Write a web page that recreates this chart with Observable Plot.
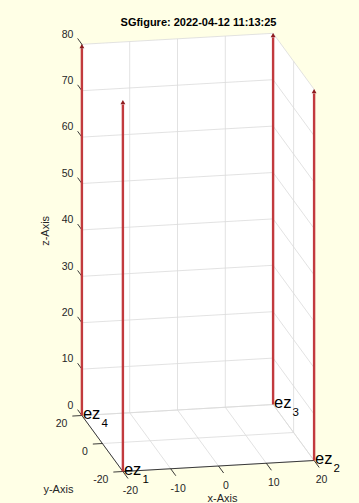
<!DOCTYPE html>
<html>
<head>
<meta charset="utf-8">
<script src="https://cdn.jsdelivr.net/npm/d3@7"></script>
<script src="https://cdn.jsdelivr.net/npm/@observablehq/plot@0.6"></script>
<style>
  html, body { margin: 0; padding: 0; background: #ffffe6; }
  #chart svg { display: block; }
</style>
</head>
<body>
<div id="chart"></div>
<script>
// ---- data ----
const titleText = "SGfigure: 2022-04-12 11:13:25";
const xTicks = [-20, -10, 0, 10, 20];
const yTicks = [-20, 0, 20];
const zTicks = [0, 10, 20, 30, 40, 50, 60, 70, 80];
const vecBase = ["ez", "ez", "ez", "ez"];
const vecSub = ["1", "2", "3", "4"];
const vecX = [-20, 20, 20, -20];
const vecY = [-20, -20, 20, 20];
const vecLen = [80, 80, 80, 80];
const axisNames = ["x-Axis", "y-Axis", "z-Axis"];

// ---- orthographic view (3D -> screen) ----
const view = {ox: 197.5, oy: 437.5, ax: 4.78, ay: -1.025, bx: -0.275, by: -1.4, cz: 4.64};
const P = (x, y, z) => [view.ox + view.ax * x + view.ay * y, view.oy + view.bx * x + view.by * y - view.cz * z];
const seg = (a, b, extra = {}) => { const p = P(...a), q = P(...b); return {x1: p[0], y1: p[1], x2: q[0], y2: q[1], ...extra}; };

const [x0, x1] = [xTicks[0], xTicks[xTicks.length - 1]];
const [y0, y1] = [yTicks[0], yTicks[yTicks.length - 1]];
const [z0, z1] = [zTicks[0], zTicks[zTicks.length - 1]];

// planes (white background of the axes box)
const planes = [];
const addPlane = (name, pts) => pts.forEach(p => { const q = P(...p); planes.push({plane: name, x: q[0], y: q[1]}); });
addPlane("back", [[x0, y1, z0], [x1, y1, z0], [x1, y1, z1], [x0, y1, z1]]);
addPlane("right", [[x1, y1, z0], [x1, y0, z0], [x1, y0, z1], [x1, y1, z1]]);
addPlane("floor", [[x0, y1, z0], [x0, y0, z0], [x1, y0, z0], [x1, y1, z0]]);

// grid lines
const grid = [];
xTicks.forEach(x => { grid.push(seg([x, y1, z0], [x, y1, z1])); grid.push(seg([x, y0, z0], [x, y1, z0])); });
zTicks.forEach(z => { grid.push(seg([x0, y1, z], [x1, y1, z])); grid.push(seg([x1, y1, z], [x1, y0, z])); });
yTicks.forEach(y => { grid.push(seg([x1, y, z0], [x1, y, z1])); grid.push(seg([x0, y, z0], [x1, y, z0])); });

// axis lines
const axes = [
  seg([x0, y0, z0], [x1, y0, z0]),
  seg([x0, y0, z0], [x0, y1, z0]),
  seg([x0, y1, z0], [x0, y1, z1])
];
// ticks
const ticks = [];
xTicks.forEach(x => ticks.push(seg([x, y0, z0], [x, y0 - 5, z0])));
yTicks.forEach(y => ticks.push(seg([x0, y, z0], [x0 - 2, y, z0])));
zTicks.forEach(z => ticks.push(seg([x0, y1, z], [x0, y1 + 4.2, z])));

const xLab = xTicks.map(v => { const p = P(v, y0, z0); return {x: p[0], y: p[1], t: String(v)}; });
const yLab = yTicks.map(v => { const p = P(x0, v, z0); return {x: p[0], y: p[1], t: String(v)}; });
const zLab = zTicks.map(v => { const p = P(x0, y1, v); return {x: p[0], y: p[1], t: String(v)}; });

// vectors
const shafts = vecX.map((vx, i) => seg([vx, vecY[i], 0], [vx, vecY[i], vecLen[i] - 0.9]));
const heads = vecX.map((vx, i) => { const p = P(vx, vecY[i], vecLen[i] - 0.55); return {x: p[0], y: p[1]}; });
const vlabels = vecX.map((vx, i) => { const p = P(vx, vecY[i], 0); return {x: p[0], y: p[1], b: vecBase[i], s: vecSub[i]}; });

const pxA = P(0, y0, z0), pyA = P(x0, 0, z0), pzA = P(x0, y1, (z0 + z1) / 2);
const axisTitles = [
  {x: pxA[0] + 4, y: pxA[1] + 32, t: axisNames[0], r: 0},
  {x: pyA[0] - 44, y: pyA[1] + 45.5, t: axisNames[1], r: 0},
  {x: pzA[0] - 36, y: pzA[1] + 1, t: axisNames[2], r: -90}
];

const font = "'Liberation Sans', Arial, Helvetica, sans-serif";
const ink = "#262626";

const chart = Plot.plot({
  width: 359,
  height: 503,
  margin: 0,
  x: {type: "identity", axis: null},
  y: {type: "identity", axis: null},
  style: {background: "transparent", fontFamily: font},
  marks: [
    Plot.line(planes, {x: "x", y: "y", z: "plane", fill: "white", stroke: "none"}),
    Plot.link(grid, {x1: "x1", y1: "y1", x2: "x2", y2: "y2", stroke: "#dadada", strokeWidth: 0.8}),
    Plot.link(axes, {x1: "x1", y1: "y1", x2: "x2", y2: "y2", stroke: ink, strokeWidth: 0.9}),
    Plot.link(ticks, {x1: "x1", y1: "y1", x2: "x2", y2: "y2", stroke: ink, strokeWidth: 0.9}),
    Plot.text(xLab, {x: "x", y: "y", text: "t", dx: 7.5, dy: 19.5, fontSize: 10.5, fill: ink, textAnchor: "middle", lineAnchor: "middle"}),
    Plot.text(yLab, {x: "x", y: "y", text: "t", dx: -14.5, dy: 8.5, fontSize: 10.5, fill: ink, textAnchor: "end", lineAnchor: "middle"}),
    Plot.text(zLab, {x: "x", y: "y", text: "t", dx: -8.5, dy: -10, fontSize: 10.5, fill: ink, textAnchor: "end", lineAnchor: "middle"}),
    Plot.link(shafts, {x1: "x1", y1: "y1", x2: "x2", y2: "y2", stroke: "#c23a3e", strokeWidth: 2.4}),
    Plot.dot(heads, {x: "x", y: "y", symbol: "triangle", r: 1.8, fill: "#8e1b1f", stroke: "none"}),
    Plot.text(vlabels, {x: "x", y: "y", text: "b", dx: 1, dy: 3.5, fontSize: 16.5, fill: "black", textAnchor: "start", lineAnchor: "bottom"}),
    Plot.text(vlabels, {x: "x", y: "y", text: "s", dx: 19.5, dy: 11.5, fontSize: 11.5, fill: "black", textAnchor: "start", lineAnchor: "bottom"}),
    Plot.text(axisTitles, {x: "x", y: "y", text: "t", rotate: "r", fontSize: 11, fill: ink, textAnchor: "middle", lineAnchor: "middle"}),
    Plot.text([titleText], {x: () => 198, y: () => 22, text: d => d, fontSize: 11, fontWeight: "bold", fill: "black", textAnchor: "middle", lineAnchor: "middle"})
  ]
});
document.getElementById("chart").appendChild(chart);
</script>
</body>
</html>
